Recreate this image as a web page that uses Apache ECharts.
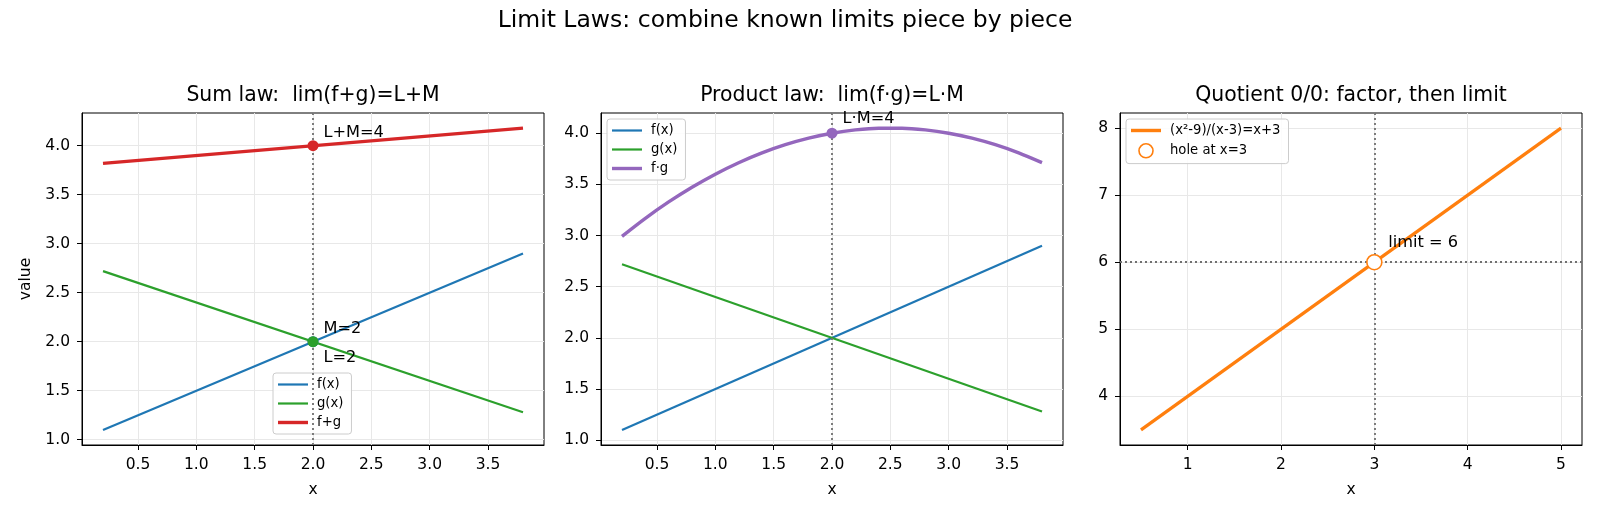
<!DOCTYPE html>
<html><head><meta charset="utf-8">
<script src="https://cdn.jsdelivr.net/npm/echarts@6/dist/echarts.min.js"></script>
<style>html,body{margin:0;padding:0;background:#fff}#c{width:1600px;height:517px}</style>
</head><body><div id="c"></div>
<script>
// ---------- data ----------
const SUPER_TITLE = 'Limit Laws: combine known limits piece by piece';
const PANEL_TITLES = ['Sum law:  lim(f+g)=L+M', 'Product law:  lim(f·g)=L·M', 'Quotient 0/0: factor, then limit'];
const X_LABEL = 'x';
const Y_LABEL = 'value';

const LINE_X = [0.2, 3.8];
const F_VALUES = [1.1, 2.9];
const G_VALUES = [2.72, 1.28];
const SUM_VALUES = [3.82, 4.18];

const PROD_X = [0.2, 0.4, 0.6, 0.8, 1.0, 1.2, 1.4, 1.6, 1.8, 2.0, 2.2, 2.4, 2.6, 2.8, 3.0, 3.2, 3.4, 3.6, 3.8];
const PROD_VALUES = [2.992, 3.168, 3.328, 3.472, 3.6, 3.712, 3.808, 3.888, 3.952, 4.0, 4.032, 4.048, 4.048, 4.032, 4.0, 3.952, 3.888, 3.808, 3.712];

const QUOT_X = [0.5, 5.0];
const QUOT_VALUES = [3.5, 8.0];

const LIMIT_X = 2;          // x where the limits are taken (sum / product)
const L_VALUE = 2, M_VALUE = 2, SUM_LIMIT = 4, PROD_LIMIT = 4;
const HOLE = [3, 6];        // quotient: hole at x=3, limit 6

const LAW_X_TICKS = [0.5, 1.0, 1.5, 2.0, 2.5, 3.0, 3.5];
const LAW_Y_TICKS = [1.0, 1.5, 2.0, 2.5, 3.0, 3.5, 4.0];
const QUOT_X_TICKS = [1, 2, 3, 4, 5];
const QUOT_Y_TICKS = [4, 5, 6, 7, 8];

// annotation texts and their (x, y) data positions
const SUM_NOTES = [['L+M=4', 2.09, 4.135], ['M=2', 2.09, 2.128], ['L=2', 2.09, 1.839]];
const PROD_NOTES = [['L·M=4', 2.09, 4.137]];
const QUOT_NOTES = [['limit = 6', 3.15, 6.294]];

// ---------- styling ----------
const FONT = 'DejaVu Sans';
const C = {blue: '#1f77b4', green: '#2ca02c', red: '#d62728', purple: '#9467bd', orange: '#ff7f0e'};
const GRIDS = [
  {left: 82, top: 113, width: 462, height: 332},
  {left: 601, top: 113, width: 462, height: 332},
  {left: 1120, top: 113, width: 462, height: 332}
];
const zip = (xs, ys) => xs.map((x, i) => [x, ys[i]]);
const f1 = v => v.toFixed(1);
const f0 = v => String(Math.round(v));
const TICK_FONT = 15.5;

function xAxis(gi, min, max, ticks, fmt) {
  return {
    type: 'value', gridIndex: gi, min, max,
    name: X_LABEL, nameLocation: 'middle', nameGap: 37,
    nameTextStyle: {fontSize: TICK_FONT, color: '#000', fontFamily: FONT},
    axisLine: {show: true, onZero: false, lineStyle: {color: '#000', width: 1}},
    axisTick: {show: true, inside: false, length: 5, customValues: ticks, lineStyle: {color: '#000', width: 1}},
    axisLabel: {customValues: ticks, formatter: fmt, fontSize: TICK_FONT, color: '#000', margin: 12, fontFamily: FONT},
    splitLine: {show: true, lineStyle: {color: '#e8e8e8', width: 1}}
  };
}
function yAxis(gi, min, max, ticks, fmt, name) {
  return {
    type: 'value', gridIndex: gi, min, max,
    name: name || '', nameLocation: 'middle', nameGap: 48,
    nameTextStyle: {fontSize: TICK_FONT, color: '#000', fontFamily: FONT},
    axisLine: {show: true, onZero: false, lineStyle: {color: '#000', width: 1}},
    axisTick: {show: true, inside: false, length: 5, customValues: ticks, lineStyle: {color: '#000', width: 1}},
    axisLabel: {customValues: ticks, formatter: fmt, fontSize: TICK_FONT, color: '#000', margin: 12, fontFamily: FONT},
    splitLine: {show: true, lineStyle: {color: '#e8e8e8', width: 1}}
  };
}
const dotted = {color: '#707070', width: 1.8, type: [2, 3]};
function lineSeries(gi, name, xs, ys, color, width, extra) {
  return Object.assign({
    type: 'line', name, xAxisIndex: gi, yAxisIndex: gi, data: zip(xs, ys),
    symbol: 'none', showSymbol: false, lineStyle: {color, width}, itemStyle: {color}, z: 2, animation: false
  }, extra || {});
}
function dot(gi, pt, color, size) {
  return {type: 'scatter', xAxisIndex: gi, yAxisIndex: gi, data: [pt], symbolSize: size,
    itemStyle: {color, opacity: 1}, z: 5, silent: true, animation: false};
}
function notes(gi, list) {
  return {type: 'scatter', xAxisIndex: gi, yAxisIndex: gi, symbolSize: 0, silent: true, z: 6, animation: false,
    itemStyle: {opacity: 1, color: '#000'},
    data: list.map(n => ({value: [n[1], n[2]], label: {formatter: n[0]}})),
    label: {show: true, position: [0, 0], align: 'left', verticalAlign: 'middle',
      fontSize: 16.2, color: '#000', opacity: 1, fontFamily: FONT}};
}
function vLine(x) { return {symbol: 'none', silent: true, animation: false, label: {show: false}, lineStyle: dotted, data: [{xAxis: x}]}; }

// legend handles: plain line segments
const thinHandle = 'path://M0,0H30V2.2H0Z';
const thickHandle = 'path://M0,0H30V3.4H0Z';
const legendBase = {
  orient: 'vertical', itemWidth: 30, itemHeight: 14, itemGap: 6,
  padding: [5, 8, 5, 5], backgroundColor: 'rgba(255,255,255,0.85)',
  borderColor: '#cccccc', borderWidth: 1, borderRadius: 3,
  textStyle: {fontSize: 13.2, color: '#000', fontFamily: FONT, padding: [0, 0, 0, 4]},
  itemStyle: {borderWidth: 0},
  selectedMode: false
};

const option = {
  backgroundColor: '#fff',
  animation: false,
  textStyle: {fontFamily: FONT},
  grid: GRIDS.map(g => Object.assign({show: true, borderColor: '#000', borderWidth: 1, backgroundColor: 'transparent'}, g)),
  xAxis: [
    xAxis(0, 0.02, 3.98, LAW_X_TICKS, f1),
    xAxis(1, 0.02, 3.98, LAW_X_TICKS, f1),
    xAxis(2, 0.275, 5.225, QUOT_X_TICKS, f0)
  ],
  yAxis: [
    yAxis(0, 0.946, 4.334, LAW_Y_TICKS, f1, Y_LABEL),
    yAxis(1, 0.9525, 4.1975, LAW_Y_TICKS, f1),
    yAxis(2, 3.275, 8.225, QUOT_Y_TICKS, f0)
  ],
  legend: [
    Object.assign({}, legendBase, {left: 273, top: 373, data: [
      {name: 'f(x)', icon: thinHandle}, {name: 'g(x)', icon: thinHandle}, {name: 'f+g', icon: thickHandle}]}),
    Object.assign({}, legendBase, {left: 607, top: 119, data: [
      {name: 'f(x)', icon: thinHandle}, {name: 'g(x)', icon: thinHandle}, {name: 'f·g', icon: thickHandle}]}),
    Object.assign({}, legendBase, {left: 1126, top: 119, data: [
      {name: '(x²-9)/(x-3)=x+3', icon: thickHandle},
      {name: 'hole at x=3', icon: 'circle', itemStyle: {color: '#ffffff', borderColor: C.orange, borderWidth: 1.6}}]})
  ],
  series: [
    // Sum law
    lineSeries(0, 'f(x)', LINE_X, F_VALUES, C.blue, 2.2, {markLine: vLine(LIMIT_X)}),
    lineSeries(0, 'g(x)', LINE_X, G_VALUES, C.green, 2.2),
    lineSeries(0, 'f+g', LINE_X, SUM_VALUES, C.red, 3.4),
    dot(0, [LIMIT_X, L_VALUE], C.blue, 11),
    dot(0, [LIMIT_X, M_VALUE], C.green, 11),
    dot(0, [LIMIT_X, SUM_LIMIT], C.red, 11),
    notes(0, SUM_NOTES),
    // Product law
    lineSeries(1, 'f(x)', LINE_X, F_VALUES, C.blue, 2.2, {markLine: vLine(LIMIT_X)}),
    lineSeries(1, 'g(x)', LINE_X, G_VALUES, C.green, 2.2),
    lineSeries(1, 'f·g', PROD_X, PROD_VALUES, C.purple, 3.4, {smooth: 0.3}),
    dot(1, [LIMIT_X, PROD_LIMIT], C.purple, 11),
    notes(1, PROD_NOTES),
    // Quotient
    lineSeries(2, '(x²-9)/(x-3)=x+3', QUOT_X, QUOT_VALUES, C.orange, 3.2, {
      markLine: {symbol: 'none', silent: true, animation: false, label: {show: false}, lineStyle: dotted,
        data: [{xAxis: HOLE[0]}, {yAxis: HOLE[1]}]}
    }),
    {type: 'scatter', name: 'hole at x=3', xAxisIndex: 2, yAxisIndex: 2, data: [HOLE], symbolSize: 15,
      itemStyle: {color: '#ffffff', borderColor: C.orange, borderWidth: 1.6, opacity: 1}, z: 5, animation: false},
    notes(2, QUOT_NOTES)
  ],
  graphic: [
    {type: 'text', x: 785, y: 21, style: {text: SUPER_TITLE, fontSize: 23.5, fontFamily: FONT, fill: '#000', align: 'center', verticalAlign: 'middle'}},
    ...PANEL_TITLES.map((t, i) => ({type: 'text', x: GRIDS[i].left + GRIDS[i].width / 2, y: 96,
      style: {text: t, fontSize: 20.4, fontFamily: FONT, fill: '#000', align: 'center', verticalAlign: 'middle'}}))
  ]
};
const chart = echarts.init(document.getElementById('c'), null, {renderer: 'canvas'});
chart.setOption(option);
</script></body></html>
